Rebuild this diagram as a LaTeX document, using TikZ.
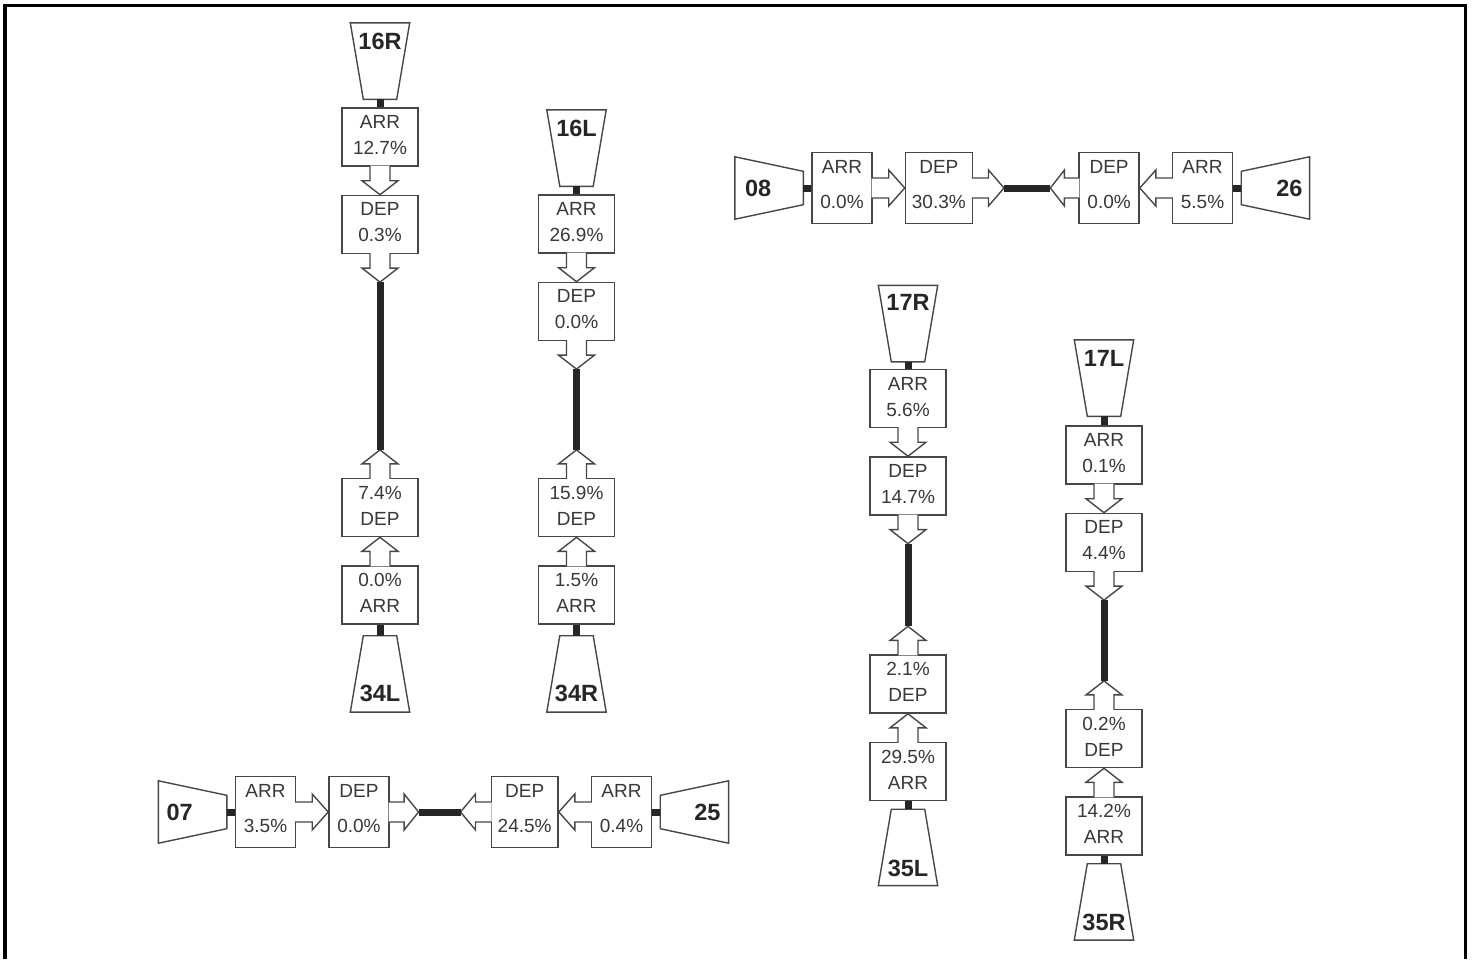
\documentclass[tikz,border=0pt]{standalone}
\usepackage{fontspec}
\setmainfont{Liberation Sans}
\usetikzlibrary{positioning,calc}
\definecolor{linegray}{gray}{0.28}
\definecolor{textgray}{gray}{0.22}
\tikzset{
box/.style={
draw=linegray,
line width=1.4pt,
fill=white,
align=center,
inner sep=0pt,
minimum width=76pt,
minimum height=58pt,
text=textgray,
font=\fontsize{19}{26}\selectfont,
execute at end node={\rule[-4pt]{0pt}{0pt}}
},
hbox/.style={
box,
minimum width=60pt,
minimum height=71pt,
inner xsep=6.5pt,
font=\fontsize{19}{35}\selectfont,
execute at end node={\rule[-8pt]{0pt}{0pt}}
},
rwy/.style={
inner sep=0pt,
minimum width=59pt,
minimum height=76pt
},
hrwy/.style={
inner sep=0pt,
minimum width=68pt,
minimum height=62pt
},
rwyline/.style={
draw=linegray,
line width=1.4pt,
fill=white,
line join=miter
},
rwytxt/.style={
inner sep=0pt,
text=black!85,
font=\fontsize{23.5}{28}\selectfont\bfseries
},
strip/.style={
line width=7pt,
draw=black!85
},
blk/.style={
draw=linegray,
line width=1.4pt,
fill=white
},
varr/.style={to path={
let \p1=($(\tikztostart)!-1pt!(\tikztotarget)$),\p2=($(\tikztostart)!.5!(\tikztotarget)$) in
(\x1-10pt,\y1)--(\x1-10pt,\y2)--(\x1-18pt,\y2)--(\tikztotarget)--(\x1+18pt,\y2)--(\x1+10pt,\y2)--(\x1+10pt,\y1)}
},
harr/.style={to path={
let \p1=($(\tikztostart)!-1pt!(\tikztotarget)$),\p2=($(\tikztostart)!.5!(\tikztotarget)$) in
(\x1,\y1-10pt)--(\x2,\y1-10pt)--(\x2,\y1-18pt)--(\tikztotarget)--(\x2,\y1+18pt)--(\x2,\y1+10pt)--(\x1,\y1+10pt)}
}
}

\begin{document}
\begin{tikzpicture}[x=1pt,y=-1pt]
\useasboundingbox (0,0) rectangle (1473,959);
\draw[line width=3.5pt] (5,959)--(5,5.5)--(1465.5,5.5)--(1465.5,959);

% 16R / 34L
\node[box] (a16R) at (380,137) {ARR\\12.7\%};
\node[box,below=28pt of a16R] (d16R) {DEP\\0.3\%};
\coordinate[below=28pt of d16R] (s16R);
\node[box] (a34L) at (380,595) {0.0\%\\ARR};
\node[box,above=28pt of a34L] (d34L) {7.4\%\\DEP};
\coordinate[above=28pt of d34L] (s34L);
\node[rwy,above=8pt of a16R] (t16R) {};
\node[rwy,below=11pt of a34L] (t34L) {};

% 16L / 34R
\node[box] (a16L) at (576.5,224) {ARR\\26.9\%};
\node[box,below=28pt of a16L] (d16L) {DEP\\0.0\%};
\coordinate[below=28pt of d16L] (s16L);
\node[box] (a34R) at (576.5,595) {1.5\%\\ARR};
\node[box,above=28pt of a34R] (d34R) {15.9\%\\DEP};
\coordinate[above=28pt of d34R] (s34R);
\node[rwy,above=8pt of a16L] (t16L) {};
\node[rwy,below=11pt of a34R] (t34R) {};

% 17R / 35L
\node[box] (a17R) at (908,398.5) {ARR\\5.6\%};
\node[box,below=28pt of a17R] (d17R) {DEP\\14.7\%};
\coordinate[below=28pt of d17R] (s17R);
\node[box] (a35L) at (908,771.5) {29.5\%\\ARR};
\node[box,above=28pt of a35L] (d35L) {2.1\%\\DEP};
\coordinate[above=28pt of d35L] (s35L);
\node[rwy,above=7pt of a17R] (t17R) {};
\node[rwy,below=8pt of a35L] (t35L) {};

% 17L / 35R
\node[box] (a17L) at (1104,455) {ARR\\0.1\%};
\node[box,below=28pt of a17L] (d17L) {DEP\\4.4\%};
\coordinate[below=28pt of d17L] (s17L);
\node[box] (a35R) at (1104,826) {14.2\%\\ARR};
\node[box,above=28pt of a35R] (d35R) {0.2\%\\DEP};
\coordinate[above=28pt of d35R] (s35R);
\node[rwy,above=9pt of a17L] (t17L) {};
\node[rwy,below=8pt of a35R] (t35R) {};

% 08 / 26
\node[hbox] (a08) at (842,188) {ARR\\0.0\%};
\node[hbox,right=32pt of a08] (d08) {DEP\\30.3\%};
\coordinate[right=31pt of d08] (s08);
\node[hbox] (a26) at (1202.5,188) {ARR\\5.5\%};
\node[hbox,left=32pt of a26] (d26) {DEP\\0.0\%};
\coordinate[left=28pt of d26] (s26);
\node[hrwy,left=8pt of a08] (t08) {};
\node[hrwy,right=8pt of a26] (t26) {};

% 07 / 25
\node[hbox] (a07) at (265.5,812) {ARR\\3.5\%};
\node[hbox,right=32pt of a07] (d07) {DEP\\0.0\%};
\coordinate[right=29pt of d07] (s07);
\node[hbox] (a25) at (621.5,812) {ARR\\0.4\%};
\node[hbox,left=32pt of a25] (d25) {DEP\\24.5\%};
\coordinate[left=30pt of d25] (s25);
\node[hrwy,left=8pt of a07] (t07) {};
\node[hrwy,right=8pt of a25] (t25) {};

% runway ends
\foreach \t in {t16R,t16L,t17R,t17L}
\draw[rwyline](\t.north west)--(\t.north east)--([xshift=-13pt]\t.south east)--([xshift=13pt]\t.south west)--cycle;
\foreach \t in {t34L,t34R,t35L,t35R}
\draw[rwyline]([xshift=13pt]\t.north west)--([xshift=-13pt]\t.north east)--(\t.south east)--(\t.south west)--cycle;
\foreach \t in {t08,t07}
\draw[rwyline](\t.north west)--([yshift=-14.5pt]\t.north east)--([yshift=14.5pt]\t.south east)--(\t.south west)--cycle;
\foreach \t in {t26,t25}
\draw[rwyline]([yshift=-14.5pt]\t.north west)--(\t.north east)--(\t.south east)--([yshift=14.5pt]\t.south west)--cycle;

\node[rwytxt] (l16R) at ([yshift=20pt]t16R.center) {16R};
\node[rwytxt] (l34L) at ([yshift=-20pt]t34L.center) {34L};
\node[rwytxt] (l16L) at ([yshift=20pt]t16L.center) {16L};
\node[rwytxt] (l34R) at ([yshift=-20pt]t34R.center) {34R};
\node[rwytxt] (l17R) at ([yshift=21pt]t17R.center) {17R};
\node[rwytxt] (l35L) at ([yshift=-21pt]t35L.center) {35L};
\node[rwytxt] (l17L) at ([yshift=20pt]t17L.center) {17L};
\node[rwytxt] (l35R) at ([yshift=-21pt]t35R.center) {35R};
\node[rwytxt] (l08) at ([xshift=-11pt]t08.center) {08};
\node[rwytxt] (l26) at ([xshift=14pt]t26.center) {26};
\node[rwytxt] (l07) at ([xshift=-13pt]t07.center) {07};
\node[rwytxt] (l25) at ([xshift=13pt]t25.center) {25};

\foreach \a/\b in {a16R.south/d16R.north,d16R.south/s16R,a34L.north/d34L.south,d34L.north/s34L,
a16L.south/d16L.north,d16L.south/s16L,a34R.north/d34R.south,d34R.north/s34R,
a17R.south/d17R.north,d17R.south/s17R,a35L.north/d35L.south,d35L.north/s35L,
a17L.south/d17L.north,d17L.south/s17L,a35R.north/d35R.south,d35R.north/s35R}
\draw[blk](\a) to[varr] (\b);
\foreach \a/\b in {a08.east/d08.west,d08.east/s08,a26.west/d26.east,d26.west/s26,
a07.east/d07.west,d07.east/s07,a25.west/d25.east,d25.west/s25}
\draw[blk](\a) to[harr] (\b);

\foreach \a/\b in {s16R/s34L,s16L/s34R,s17R/s35L,s17L/s35R,s08/s26,s07/s25,
t16R.south/a16R.north,a34L.south/t34L.north,t16L.south/a16L.north,a34R.south/t34R.north,
t17R.south/a17R.north,a35L.south/t35L.north,t17L.south/a17L.north,a35R.south/t35R.north,
t08.east/a08.west,a26.east/t26.west,t07.east/a07.west,a25.east/t25.west}
\draw[strip](\a)--(\b);
\end{tikzpicture}
\end{document}
